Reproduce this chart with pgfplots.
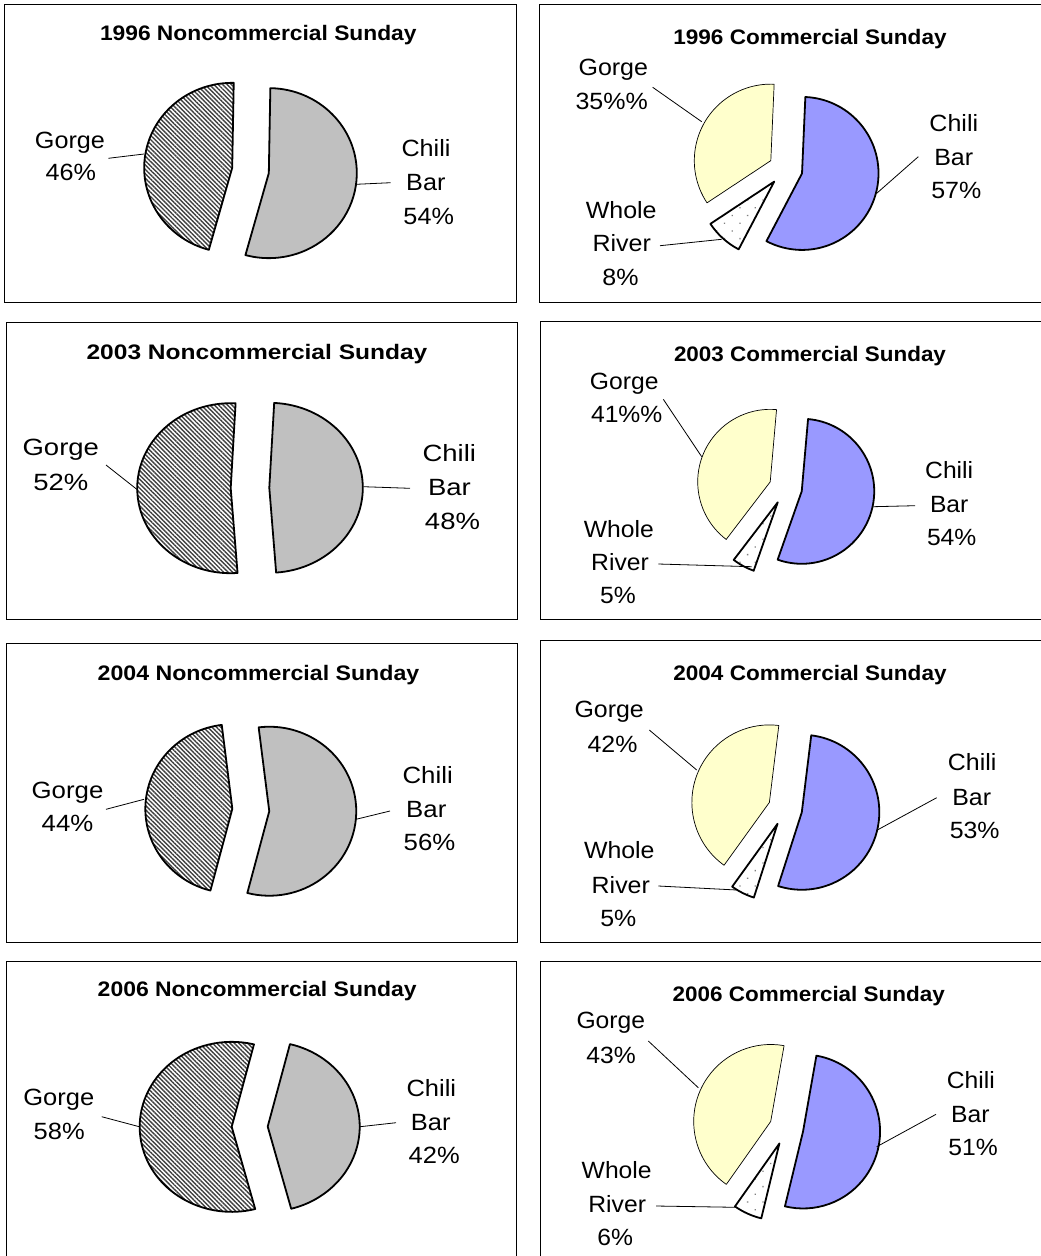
\documentclass[border=0pt]{standalone}
\usepackage{pgfplots}
\pgfplotsset{compat=1.18}
\usetikzlibrary{patterns.meta}
\usepackage{fontspec}
\setmainfont{Liberation Sans}
\usepackage{graphicx}

\definecolor{chiligray}{HTML}{C0C0C0}
\definecolor{chiliblue}{HTML}{9999FF}
\definecolor{gorgeyellow}{HTML}{FFFFCC}
\definecolor{hatch}{HTML}{404040}

\tikzset{
  lab/.style={font=\fontsize{23.5}{28}\selectfont, anchor=base, inner sep=0pt},
  tit/.style={font=\fontsize{21}{25}\selectfont\bfseries, anchor=base, inner sep=0pt},
  leader/.style={line width=0.8pt, black},
  ncgorge/.style={draw=black, line width=1.8pt, line join=round, preaction={fill=white},
    pattern={Lines[angle=-45,distance=3.1pt,line width=1.4pt]}, pattern color=hatch},
  ncchili/.style={draw=black, line width=1.8pt, line join=round, fill=chiligray},
  cchili/.style={draw=black, line width=1.8pt, line join=round, fill=chiliblue},
  cgorge/.style={draw=black, line width=0.7pt, line join=round, fill=gorgeyellow},
  criver/.style={draw=black, line width=1.8pt, line join=round, preaction={fill=white},
    pattern={Dots[distance=10.9pt,angle=45,radius=0.9pt]}, pattern color=gray},
}

% one panel = one axis; axis units are the pixels of the picture (y down -> negative)
\pgfplotsset{panel/.style n args={4}{x=1pt, y=1pt, xmin=#1, xmax=#2, ymin=-#4, ymax=-#3,
  at={(#1pt,-#3pt)}, anchor=north west, ticks=none, clip=false,
  axis line style={line width=1pt, black}}}

\newcommand\lbl[3]{\node[lab] at (axis cs:#1,-#2) {\scalebox{\lsx}[1]{#3}};}
\newcommand\ttl[3]{\node[tit] at (axis cs:#1,-#2) {\scalebox{\tsx}[1]{#3}};}
\newcommand\lead[4]{\draw[leader] (axis cs:#1,-#2) -- (axis cs:#3,-#4);}

% pie centre x, y, x radius, y radius, explosion
\newcommand\pieat[5]{\def\pcx{#1}\def\pcy{#2}\def\prx{#3}\def\pry{#4}\def\pd{#5}}
% slice: first angle, percent before, percent, style
\newcommand\slice[4]{%
  \pgfmathsetmacro\sAngA{#1-3.6*#2}%
  \pgfmathsetmacro\sAngB{\sAngA-3.6*#3}%
  \pgfmathsetmacro\sBis{(\sAngA+\sAngB)/2}%
  \pgfmathsetmacro\sVx{\pcx+\pd*cos(\sBis)}%
  \pgfmathsetmacro\sVy{-\pcy+\pd*sin(\sBis)}%
  \pgfmathsetmacro\sPx{\sVx+\prx*cos(\sAngA)}%
  \pgfmathsetmacro\sPy{\sVy+\pry*sin(\sAngA)}%
  \draw[#4] (axis cs:\sVx,\sVy) -- (axis cs:\sPx,\sPy)
    arc[start angle=\sAngA, end angle=\sAngB, x radius=\prx pt, y radius=\pry pt] -- cycle;}

\begin{document}
\begin{tikzpicture}

% ---------- 1996 Noncommercial
\def\tsx{1.085}\def\lsx{1.072}
\begin{axis}[panel={5}{516}{4}{302}]
  \pgfplotsextra{\pieat{250.5}{170.5}{88}{85}{18.5}
    \slice{89}{0}{54}{ncchili}\slice{89}{54}{46}{ncgorge}}
  \ttl{258.3}{40}{1996 Noncommercial Sunday}
  \lbl{70}{148.3}{Gorge}\lbl{70.8}{180}{46\%}
  \lead{108.3}{158.3}{144}{154}
  \lbl{426}{156.7}{Chili}\lbl{425.8}{190.7}{Bar}\lbl{428.7}{224}{54\%}
  \lead{356}{184.3}{390.7}{182.7}
\end{axis}

% ---------- 1996 Commercial
\def\tsx{1.074}\def\lsx{1.064}
\begin{axis}[panel={539}{1060}{4}{302}]
  \pgfplotsextra{\pieat{785.6}{169}{76.5}{76.5}{17}
    \slice{87.5}{0}{57}{cchili}\slice{87.5}{57}{8}{criver}\slice{87.5}{65}{35}{cgorge}}
  \ttl{810}{44}{1996 Commercial Sunday}
  \lbl{613.3}{75}{Gorge}\lbl{611.7}{109.3}{35\%\%}
  \lead{652.7}{87.3}{701.7}{121.7}
  \lbl{621.2}{218.3}{Whole}\lbl{621.7}{251.7}{River}\lbl{620.5}{285}{8\%}
  \lead{660}{245.7}{721.7}{239.3}
  \lbl{953.8}{131.7}{Chili}\lbl{953.7}{165}{Bar}\lbl{956.3}{198.3}{57\%}
  \lead{876.7}{193.3}{918.3}{156.7}
\end{axis}

% ---------- 2003 Noncommercial
\def\tsx{1.168}\def\lsx{1.17}
\begin{axis}[panel={6}{517}{322}{619}]
  \pgfplotsextra{\pieat{250}{488}{93.5}{85}{19.3}
    \slice{87}{0}{48}{ncchili}\slice{87}{48}{52}{ncgorge}}
  \ttl{257}{359.3}{2003 Noncommercial Sunday}
  \lbl{60.8}{455}{Gorge}\lbl{60.8}{490}{52\%}
  \lead{106}{465}{137.7}{490}
  \lbl{449.3}{461.7}{Chili}\lbl{449.5}{495}{Bar}\lbl{452.5}{529.3}{48\%}
  \lead{363.3}{486.7}{410}{488.3}
\end{axis}

% ---------- 2003 Commercial
\def\tsx{1.069}\def\lsx{1.05}
\begin{axis}[panel={540}{1060}{321}{619}]
  \pgfplotsextra{\pieat{785.6}{487.8}{72.5}{72.5}{16.5}
    \slice{85}{0}{54}{cchili}\slice{85}{54}{5}{criver}\slice{85}{59}{41}{cgorge}}
  \ttl{810}{361.7}{2003 Commercial Sunday}
  \lbl{624.2}{389.3}{Gorge}\lbl{626.7}{422.7}{41\%\%}
  \lead{663.3}{399.3}{701.7}{456.7}
  \lbl{618.8}{537.3}{Whole}\lbl{620}{570.7}{River}\lbl{618}{603.3}{5\%}
  \lead{658.3}{564}{751.7}{566.7}
  \lbl{949.2}{478.3}{Chili}\lbl{949.2}{512.3}{Bar}\lbl{951.7}{545}{54\%}
  \lead{873.3}{506.7}{915}{505.7}
\end{axis}

% ---------- 2004 Noncommercial
\def\tsx{1.102}\def\lsx{1.098}
\begin{axis}[panel={6}{517}{643}{942}]
  \pgfplotsextra{\pieat{250.8}{810}{87}{84.5}{18.5}
    \slice{97}{0}{56}{ncchili}\slice{97}{56}{44}{ncgorge}}
  \ttl{258.5}{680}{2004 Noncommercial Sunday}
  \lbl{67.5}{798.3}{Gorge}\lbl{67.5}{831.7}{44\%}
  \lead{106}{809.3}{144}{799.3}
  \lbl{427.7}{783.3}{Chili}\lbl{426.3}{817.7}{Bar}\lbl{429.5}{850.7}{56\%}
  \lead{356}{819.3}{390}{811}
\end{axis}

% ---------- 2004 Commercial
\def\tsx{1.074}\def\lsx{1.06}
\begin{axis}[panel={540}{1060}{640}{942}]
  \pgfplotsextra{\pieat{785.2}{808.6}{77.5}{77.5}{17}
    \slice{83}{0}{53}{cchili}\slice{83}{53}{5}{criver}\slice{83}{58}{42}{cgorge}}
  \ttl{810}{680.7}{2004 Commercial Sunday}
  \lbl{609.2}{717.3}{Gorge}\lbl{612.5}{752.7}{42\%}
  \lead{649.3}{730}{696.7}{770}
  \lbl{619.3}{858.3}{Whole}\lbl{620.8}{893.3}{River}\lbl{618.3}{926}{5\%}
  \lead{658.3}{886}{736.7}{890}
  \lbl{972.2}{770}{Chili}\lbl{971.7}{805}{Bar}\lbl{974.7}{838.3}{53\%}
  \lead{877.3}{830}{936.7}{797.7}
\end{axis}

% ---------- 2006 Noncommercial
\def\tsx{1.093}\def\lsx{1.085}
\begin{axis}[panel={6}{516}{961}{1280}]
  \pgfplotsextra{\pieat{249.7}{1126.7}{92}{85}{18}
    \slice{76}{0}{42}{ncchili}\slice{76}{42}{58}{ncgorge}}
  \ttl{257.2}{996.7}{2006 Noncommercial Sunday}
  \lbl{58.8}{1105.7}{Gorge}\lbl{59.2}{1139}{58\%}
  \lead{101.7}{1116.7}{139.3}{1126.7}
  \lbl{431.3}{1096.7}{Chili}\lbl{430.8}{1130}{Bar}\lbl{434.2}{1163.3}{42\%}
  \lead{360}{1126.7}{396}{1122.7}
\end{axis}

% ---------- 2006 Commercial
\def\tsx{1.070}\def\lsx{1.05}
\begin{axis}[panel={540}{1060}{961}{1280}]
  \pgfplotsextra{\pieat{786.4}{1128}{77}{77}{17}
    \slice{80}{0}{51}{cchili}\slice{80}{51}{6}{criver}\slice{80}{57}{43}{cgorge}}
  \ttl{808.8}{1001}{2006 Commercial Sunday}
  \lbl{610.8}{1028.3}{Gorge}\lbl{611}{1063.3}{43\%}
  \lead{648.3}{1041}{698.3}{1087.7}
  \lbl{616.7}{1178.3}{Whole}\lbl{617.2}{1212.7}{River}\lbl{615.2}{1245}{6\%}
  \lead{656}{1206}{736}{1207.3}
  \lbl{970.8}{1088.3}{Chili}\lbl{970.3}{1122.3}{Bar}\lbl{973}{1155.7}{51\%}
  \lead{876.7}{1146.7}{936}{1114.3}
\end{axis}

\pgfresetboundingbox
\path[use as bounding box] (0,0) rectangle (1041pt,-1256pt);
\end{tikzpicture}
\end{document}
